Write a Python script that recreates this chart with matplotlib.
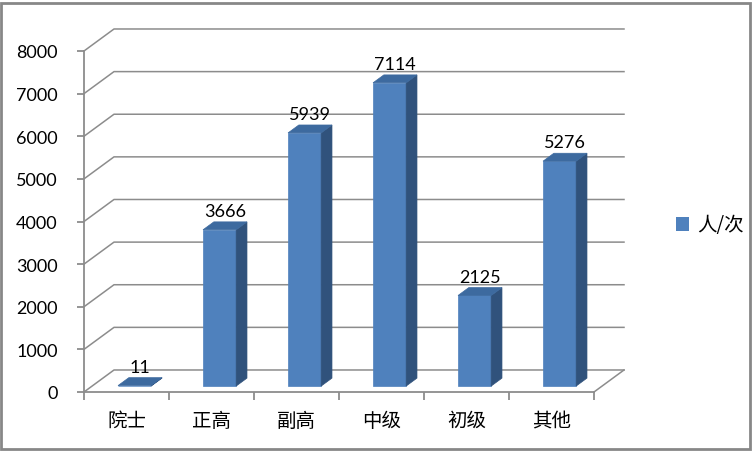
import matplotlib
matplotlib.use("Agg")
import matplotlib.pyplot as plt
from matplotlib.patches import Polygon, Patch, Rectangle
from matplotlib.lines import Line2D

categories = ['院士', '正高', '副高', '中级', '初级', '其他']
values = [11, 3666, 5939, 7114, 2125, 5276]
series_name = '人/次'
yticks = [0, 1000, 2000, 3000, 4000, 5000, 6000, 7000, 8000]

FRONT = '#4F81BD'
TOP = '#3D6A9F'
SIDE = '#30527C'
GRID = '#8C8C8C'

# oblique projection: depth 1 shifts right by DX categories and up by DY value units
DX = 30 / 85
DY = 22 / 42.6 * 1000
D0, D1 = 0.27, 0.63     # bar depth span
BW = 0.39               # bar width in category units

W, H = 752, 452
fig = plt.figure(figsize=(W / 100, H / 100), dpi=100)
ax = fig.add_axes([84 / W, 59 / H, 510 / W, 341 / H])
ax.set_xlim(-0.5, len(categories) - 0.5)
ax.set_ylim(0, 8000)
ax.set_facecolor('none')

def proj(x, v, d):
    return (x + d * DX, v + d * DY)

x0, x1 = -0.5, len(categories) - 0.5

# back wall gridlines + left side wall diagonals
for v in yticks:
    ax.add_line(Line2D([proj(x0, v, 0)[0], proj(x0, v, 1)[0], proj(x1, v, 1)[0]],
                       [v, proj(x0, v, 1)[1], proj(x1, v, 1)[1]],
                       color=GRID, lw=1.1, clip_on=False, zorder=1))
# floor right edge
ax.add_line(Line2D([x1, proj(x1, 0, 1)[0]], [0, proj(x1, 0, 1)[1]],
                   color=GRID, lw=1.1, clip_on=False, zorder=1))

# bars
for i, v in enumerate(values):
    l, r = i - BW / 2, i + BW / 2
    front = [proj(l, 0, D0), proj(r, 0, D0), proj(r, v, D0), proj(l, v, D0)]
    side = [proj(r, 0, D0), proj(r, 0, D1), proj(r, v, D1), proj(r, v, D0)]
    top = [proj(l, v, D0), proj(r, v, D0), proj(r, v, D1), proj(l, v, D1)]
    for pts, c in ((front, FRONT), (side, SIDE), (top, TOP)):
        ax.add_patch(Polygon(pts, closed=True, facecolor=c, edgecolor=c,
                             lw=0.5, clip_on=False, zorder=3))
    lx, ly = proj(i, v, D1)
    ax.annotate(str(v), (lx - DX * 0.18, ly), xytext=(0, 3), textcoords='offset pixels',
                ha='center', va='bottom', fontsize=13, family=['Lato', 'DejaVu Sans'],
                zorder=4)

# axes: left spine + floor front edge
for s in ('top', 'right'):
    ax.spines[s].set_visible(False)
for s in ('left', 'bottom'):
    ax.spines[s].set_color(GRID)
    ax.spines[s].set_linewidth(1.3)
ax.set_yticks(yticks)
ax.set_yticklabels([str(t) for t in yticks], fontsize=13, family=['Lato', 'DejaVu Sans'])
ax.tick_params(axis='y', length=5, width=1.3, color=GRID, pad=14)
ax.set_xticks([i - 0.5 for i in range(len(categories) + 1)])
ax.set_xticklabels([])
ax.tick_params(axis='x', which='major', length=6, width=1.3, color=GRID)
ax.set_xticks(range(len(categories)), minor=True)
ax.set_xticklabels(categories, minor=True, fontsize=14,
                   family=['Noto Sans CJK SC', 'DejaVu Sans'])
ax.tick_params(axis='x', which='minor', length=0, pad=13)

leg = ax.legend(handles=[Patch(facecolor=FRONT, label=series_name)], frameon=False,
                loc='center left', bbox_to_anchor=(658 / W, 1 - 226 / H),
                bbox_transform=fig.transFigure, handlelength=0.7, handleheight=0.7,
                handletextpad=0.4, prop={'family': ['Noto Sans CJK SC', 'DejaVu Sans'],
                                         'size': 14})

# chart border
fig.patches.append(Rectangle((1.5 / W, 2.5 / H), (W - 4) / W, (H - 6) / H,
                             transform=fig.transFigure, fill=False,
                             edgecolor='#878787', lw=2))

fig.savefig('out.png', dpi=100)
